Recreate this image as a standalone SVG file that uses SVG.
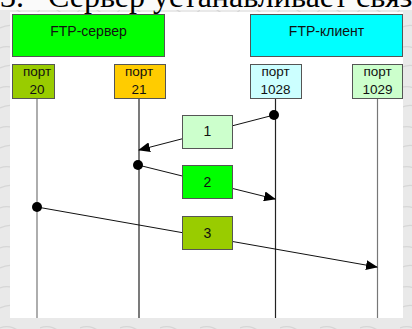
<svg xmlns="http://www.w3.org/2000/svg" width="412" height="329" viewBox="0 0 412 329">
<defs>
<marker id="arr" markerWidth="12" markerHeight="10" refX="11" refY="5" orient="auto" markerUnits="userSpaceOnUse">
<path d="M0,0 L12,5 L0,10 Z" fill="#000"/>
</marker>
<pattern id="marble" width="40" height="40" patternUnits="userSpaceOnUse">
<rect width="40" height="40" fill="#e9e9e9"/>
<path d="M0,8 Q10,4 20,12 T40,10 M0,28 Q12,22 22,30 T40,26" stroke="#d6d6d6" stroke-width="1.2" fill="none"/>
</pattern>
</defs>
<style>
.box{stroke:#555;stroke-width:1}
.t{font-family:"Liberation Sans",Arial,sans-serif;font-size:14px;fill:#111;text-anchor:middle}
.p{font-family:"Liberation Sans",Arial,sans-serif;font-size:13.5px;fill:#111;text-anchor:middle}
.life{stroke-width:1.2;fill:none}
.conn{stroke:#111;stroke-width:1;fill:none}
</style>
<rect width="412" height="329" fill="url(#marble)"/>
<rect x="0" y="0" width="412" height="10" fill="#fafafa"/>
<rect x="10" y="12" width="393" height="306" fill="#fff"/>
<text x="0" y="7" font-family="Liberation Serif,'Times New Roman',serif" font-size="32" fill="#000" xml:space="preserve">3.   Сервер устанавливает связ</text>

<g id="lifelines">
<line class="life" x1="37" y1="98" x2="37" y2="318" stroke="#777"/>
<line class="life" x1="139" y1="98" x2="139" y2="318" stroke="#222"/>
<line class="life" x1="275.5" y1="98" x2="275.5" y2="318" stroke="#222"/>
<line class="life" x1="377.5" y1="98" x2="377.5" y2="318" stroke="#777"/>
</g>

<g id="connectors">
<line class="conn" x1="274" y1="115" x2="139" y2="150" marker-end="url(#arr)"/>
<circle cx="274" cy="115" r="5" fill="#000"/>
<line class="conn" x1="138" y1="165" x2="275" y2="199" marker-end="url(#arr)"/>
<circle cx="138" cy="165" r="5" fill="#000"/>
<line class="conn" x1="37" y1="207" x2="377" y2="267" marker-end="url(#arr)"/>
<circle cx="37" cy="207" r="5" fill="#000"/>
</g>

<g id="ftp-server"><rect class="box" x="12.5" y="14.5" width="152" height="42" fill="#00ff00"/><text class="t" x="88.5" y="36">FTP-сервер</text></g>
<g id="ftp-client"><rect class="box" x="250.5" y="14.5" width="152" height="42" fill="#00ffff"/><text class="t" x="326.5" y="36">FTP-клиент</text></g>

<g id="port20"><rect class="box" x="12.5" y="64.5" width="42" height="34" fill="#99cc00"/><text class="p" x="37" y="76">порт</text><text class="p" x="37" y="94">20</text></g>
<g id="port21"><rect class="box" x="114.5" y="64.5" width="51" height="34" fill="#ffcc00"/><text class="p" x="139" y="76">порт</text><text class="p" x="139" y="94">21</text></g>
<g id="port1028"><rect class="box" x="250.5" y="64.5" width="51" height="34" fill="#ccffff"/><text class="p" x="275.5" y="76">порт</text><text class="p" x="275.5" y="94">1028</text></g>
<g id="port1029"><rect class="box" x="352.5" y="64.5" width="50" height="34" fill="#ccffcc"/><text class="p" x="377.5" y="76">порт</text><text class="p" x="377.5" y="94">1029</text></g>

<g id="msg1"><rect class="box" x="182.5" y="115.5" width="50" height="33" fill="#ccffcc"/><text class="t" x="207.5" y="136">1</text></g>
<g id="msg2"><rect class="box" x="182.5" y="165.5" width="50" height="33" fill="#00ff00"/><text class="t" x="207.5" y="187">2</text></g>
<g id="msg3"><rect class="box" x="182.5" y="216.5" width="50" height="33" fill="#99cc00"/><text class="t" x="207.5" y="238">3</text></g>
</svg>
